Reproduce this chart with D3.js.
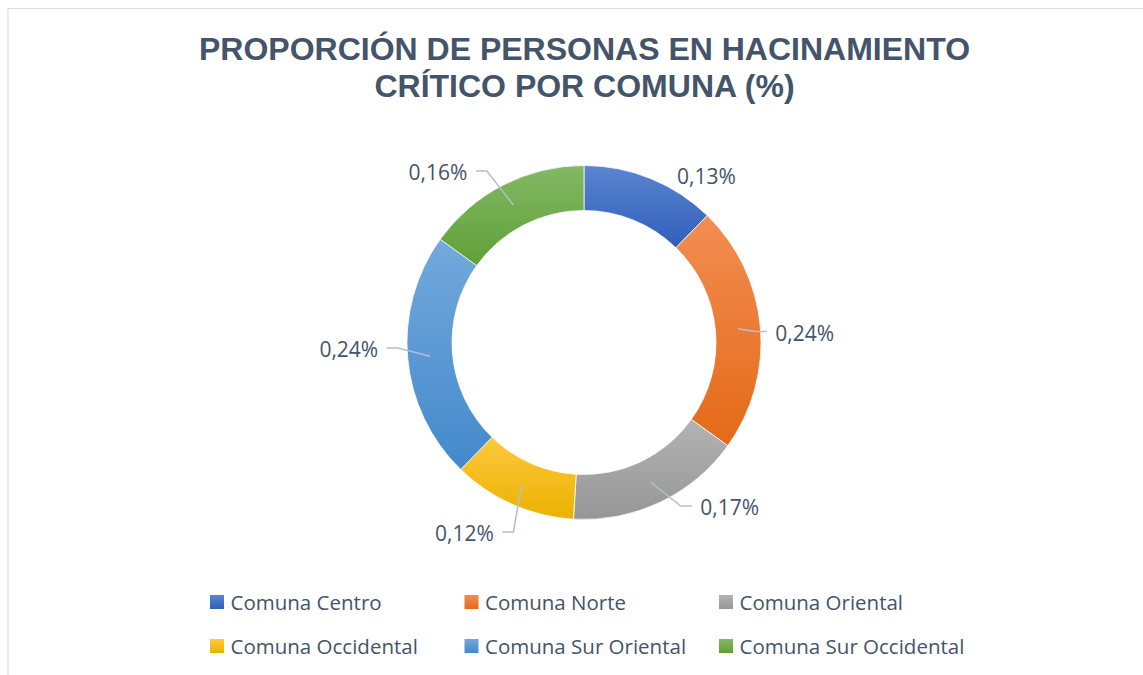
<!DOCTYPE html>
<html>
<head>
<meta charset="utf-8">
<script src="https://cdn.jsdelivr.net/npm/d3@7"></script>
<style>
  html, body { margin: 0; padding: 0; background: #ffffff; }
  svg { display: block; }
</style>
</head>
<body>
<svg id="chart" width="1143" height="675"></svg>
<script>
// ---- data ----
const titleLines = ["PROPORCIÓN DE PERSONAS EN HACINAMIENTO", "CRÍTICO POR COMUNA (%)"];
const categories = ["Comuna Centro", "Comuna Norte", "Comuna Oriental", "Comuna Occidental", "Comuna Sur Oriental", "Comuna Sur Occidental"];
const values = [0.13, 0.24, 0.17, 0.12, 0.24, 0.16];
const valueLabels = ["0,13%", "0,24%", "0,17%", "0,12%", "0,24%", "0,16%"];

// ---- styles / layout ----
const topColors = ["#5B84D0", "#F28D52", "#B3B3B3", "#FFC83C", "#74A9DC", "#83B865"];
const bottomColors = ["#305FBB", "#E46A18", "#969696", "#EAB200", "#4389CB", "#60A036"];
// label centre offsets from chart centre, and whether a leader line is drawn
const labelOffsets = [[122.5, -166.5], [220.7, -10], [145.7, 164.5], [-119.5, 190.5], [-235.2, 6.5], [-146, -170.5]];
const showLeader = [false, true, true, true, true, true];

const W = 1143, H = 675;
const cx = 584, cy = 342.5;
const outerR = 177, innerR = 132;
const textColor = "#44546A";
const leaderColor = "#B4BFCD";
const labelFont = "'Open Sans', sans-serif";
const labelSize = 21;
const legendSize = 20.5;

const svg = d3.select("#chart");

// frame
svg.append("rect")
  .attr("x", 8).attr("y", 8.5)
  .attr("width", W + 20).attr("height", H + 20)
  .attr("fill", "#ffffff")
  .attr("stroke", "#D9DDE3").attr("stroke-width", 1.2);

// title
const title = svg.append("text")
  .attr("text-anchor", "middle")
  .attr("font-family", "'Liberation Sans', Arial, sans-serif")
  .attr("font-weight", "bold")
  .attr("font-size", 32)
  .attr("fill", textColor);
titleLines.forEach((t, i) => {
  title.append("tspan").attr("x", 584.5).attr("y", 59.5 + i * 37.5).text(t);
});

// gradients
const defs = svg.append("defs");
categories.forEach((c, i) => {
  const g = defs.append("linearGradient")
    .attr("id", "grad" + i)
    .attr("x1", 0).attr("y1", 0).attr("x2", 0).attr("y2", 1);
  g.append("stop").attr("offset", "0%").attr("stop-color", topColors[i]);
  g.append("stop").attr("offset", "100%").attr("stop-color", bottomColors[i]);
});

// donut
const pie = d3.pie().sort(null).value(d => d)(values);
const arc = d3.arc().innerRadius(innerR).outerRadius(outerR);
const g = svg.append("g").attr("transform", `translate(${cx},${cy})`);

g.selectAll("path.slice")
  .data(pie)
  .join("path")
  .attr("class", "slice")
  .attr("d", arc)
  .attr("fill", (d, i) => `url(#grad${i})`)
  .attr("stroke", "#ffffff")
  .attr("stroke-width", 0.75);

// labels + leaders
const gap = 8.5, elbow = 11;
pie.forEach((d, i) => {
  const [lx, ly] = labelOffsets[i];
  const label = g.append("text")
    .attr("x", lx).attr("y", ly)
    .attr("text-anchor", "middle")
    .attr("dominant-baseline", "central")
    .attr("font-family", labelFont)
    .attr("font-size", labelSize)
    .attr("fill", textColor)
    .text(valueLabels[i]);
  if (showLeader[i]) {
    const w = label.node().getComputedTextLength();
    const [sx, sy] = arc.centroid(d);
    const right = lx > sx;
    const edge = right ? lx - w / 2 - gap : lx + w / 2 + gap;
    const ey = ly - 1;
    const bx = right ? edge - elbow : edge + elbow;
    g.append("path")
      .attr("d", d3.line()([[sx, sy], [bx, ey], [edge, ey]]))
      .attr("fill", "none")
      .attr("stroke", leaderColor)
      .attr("stroke-width", 1.5);
  }
});

// legend
const legendX = d3.scalePoint().domain([0, 1, 2]).range([210, 719]);
const legendY = d3.scalePoint().domain([0, 1]).range([610, 654]);
const legend = svg.append("g");
categories.forEach((c, i) => {
  const col = i % 3, row = Math.floor(i / 3);
  const x = legendX(col), y = legendY(row);
  legend.append("rect")
    .attr("x", x).attr("y", y - 15)
    .attr("width", 14).attr("height", 14)
    .attr("fill", `url(#grad${i})`);
  legend.append("text")
    .attr("x", x + 20.5).attr("y", y)
    .attr("font-family", labelFont)
    .attr("font-size", legendSize)
    .attr("fill", textColor)
    .text(c);
});
</script>
</body>
</html>
